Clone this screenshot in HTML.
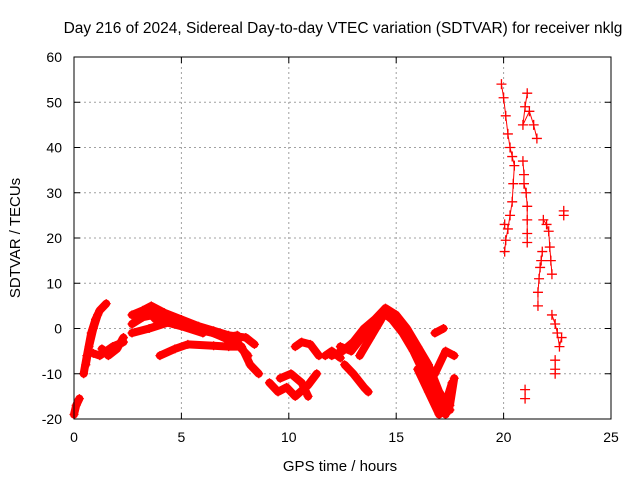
<!DOCTYPE html>
<html><head><meta charset="utf-8"><style>
body{margin:0;background:#fff;}
svg{display:block;font-family:"Liberation Sans",sans-serif;}
</style></head><body>
<svg id="chart" width="640" height="480">
<text x="343" y="33" font-size="15.5" text-anchor="middle">Day 216 of 2024, Sidereal Day-to-day VTEC variation (SDTVAR) for receiver nklg</text>
<g id="grid"></g><g id="marks"></g><g id="axes"></g>
<text x="340" y="471" font-size="15" text-anchor="middle">GPS time / hours</text>
<text transform="translate(20,238) rotate(-90)" font-size="15" text-anchor="middle">SDTVAR / TECUs</text>
</svg>
<script>
const xTicks=[0,5,10,15,20,25];
const yTicks=[-20,-10,0,10,20,30,40,50,60];
// dense tracks [hour, TECU]
const denseTracks=[
[[0,-19],[0.1,-17],[0.25,-15.5]],
[[0.45,-10],[0.6,-6],[0.8,-1],[1.0,2],[1.2,4],[1.5,5.5]],
[[0.55,-8],[0.7,-4],[0.9,0],[1.1,3]],
[[0.9,-5.5],[1.2,-6],[1.5,-5],[1.8,-4],[2.3,-3]],
[[1.3,-4.5],[1.6,-6],[2,-4.5],[2.3,-2]],
[[2.7,3],[3.2,4],[3.6,5],[4.2,3.5],[5,2],[5.8,0.5],[6.5,-0.5],[7.2,-1.5],[8,-2],[8.4,-3.5]],
[[2.7,-1],[3.5,0],[4.5,1.5],[5.5,0],[6.5,-1],[7.2,-2.5],[7.5,-3]],
[[2.7,1],[3.2,2.5],[3.7,3],[4.2,1.5],[5,0.5],[6,-1]],
[[3.4,4],[3.8,2],[4.4,2.5],[5.2,1],[6.2,-0.5],[7,-2],[7.6,-1.5]],
[[4,-6],[4.7,-4.5],[5.3,-3.5],[6.5,-3.8],[7.2,-4],[7.8,-4],[8.2,-8],[8.6,-10]],
[[7.2,-3],[7.5,-2],[7.8,-4.5],[8.1,-6]],
[[9.1,-12],[9.5,-14],[9.9,-13],[10.3,-15],[10.9,-12.5],[11.3,-10]],
[[9.6,-11],[10.1,-10],[10.6,-12],[10.9,-15]],
[[10.3,-4],[10.6,-3],[11,-3.5],[11.4,-6]],
[[11.7,-6],[12,-5],[12.4,-6.5]],
[[12,-6],[12.5,-5],[13,-3],[13.5,0],[14,2],[14.5,4.5],[15,3],[15.5,0],[16,-4],[16.5,-8],[17,-14],[17.5,-18]],
[[12.4,-4],[12.9,-5],[13.4,-2],[13.9,1],[14.4,3.5],[14.8,2],[15.3,-1],[15.8,-5],[16.3,-10],[16.8,-15],[17.3,-19]],
[[12.6,-8],[13,-10],[13.5,-13],[13.7,-14]],
[[13.3,-6],[13.8,-2],[14.3,2]],
[[16,-9],[16.5,-14],[17,-19],[17.5,-17],[17.7,-11]],
[[16.2,-7],[16.6,-11],[17,-16],[17.4,-15],[17.6,-12]],
[[16.8,-10],[17.3,-5],[17.7,-6]],
[[16.8,-1],[17.2,0]]
];
// sparse tracks
const sparseTracks=[
[[19.9,54],[20,51],[20.1,47],[20.2,43],[20.3,40],[20.4,38],[20.5,36],[20.45,32],[20.4,28],[20.3,25],[20.2,22],[20.1,19.5],[20.05,17]],
[[21.1,52],[21,49],[20.9,45],[21.2,48],[21.4,45],[21.55,42]],
[[20.9,37],[20.95,34],[20.95,32],[21.05,30],[21.1,27],[21.1,24],[21.1,21],[21.1,19]],
[[21.85,24],[22,23],[22.1,21.5],[22.15,18],[22.2,15],[22.25,12]],
[[21.8,17],[21.75,15],[21.7,13.5],[21.65,11],[21.6,8],[21.6,5]],
[[22.25,3],[22.4,1],[22.5,-1],[22.6,-4],[22.7,-2]],
[[22.4,-7],[22.4,-9],[22.4,-10]],
[[22.8,25],[22.8,26]],
[[21,-13.5],[21,-15.5]],
[[20.05,23]]
];
const X0=74,X1=611,Y0=419,Y1=57;
const xs=v=>X0+(v-0)/25*(X1-X0);
const ys=v=>Y0-(v+20)/80*(Y0-Y1);
const NS="http://www.w3.org/2000/svg";
function mk(t,a,p){const e=document.createElementNS(NS,t);for(const k in a)e.setAttribute(k,a[k]);p.appendChild(e);return e;}
const grid=document.getElementById('grid'),axes=document.getElementById('axes'),marks=document.getElementById('marks');
xTicks.forEach(t=>{
 if(t>0&&t<25){const l=mk('line',{x1:xs(t),x2:xs(t),y1:Y0,y2:Y1,stroke:'#a0a0a0','stroke-dasharray':'2,3'},grid);
 }
 mk('line',{x1:xs(t),x2:xs(t),y1:Y0,y2:Y0-6,stroke:'#000'},axes);
 mk('line',{x1:xs(t),x2:xs(t),y1:Y1,y2:Y1+6,stroke:'#000'},axes);
 const tx=mk('text',{x:xs(t),y:Y0+23,'font-size':14,'text-anchor':'middle'},axes);tx.textContent=t;
 
});
yTicks.forEach(t=>{
 if(t>-20&&t<60){const l=mk('line',{x1:X0,x2:X1,y1:ys(t),y2:ys(t),stroke:'#a0a0a0','stroke-dasharray':'2,3'},grid);
 }
 mk('line',{x1:X0,x2:X0+6,y1:ys(t),y2:ys(t),stroke:'#000'},axes);
 mk('line',{x1:X1,x2:X1-6,y1:ys(t),y2:ys(t),stroke:'#000'},axes);
 const tx=mk('text',{x:X0-12,y:ys(t)+5,'font-size':14,'text-anchor':'end'},axes);tx.textContent=t;
 
});
const fr=mk('rect',{x:X0,y:Y1,width:X1-X0,height:Y0-Y1,fill:'none',stroke:'#000'},axes);

function plus(x,y,s){mk('path',{d:`M${x-s},${y}h${2*s}M${x},${y-s}v${2*s}`,stroke:'#f00','stroke-width':1.3},marks);}
denseTracks.forEach(tr=>{
 const pl=mk('polyline',{points:tr.map(p=>xs(p[0])+','+ys(p[1])).join(' '),fill:'none',stroke:'#f00','stroke-width':8,'stroke-linejoin':'round','stroke-linecap':'round'},marks);
 
 tr.forEach(p=>plus(xs(p[0]),ys(p[1]),4.5));
});
sparseTracks.forEach(tr=>{
 const pl=mk('polyline',{points:tr.map(p=>xs(p[0])+','+ys(p[1])).join(' '),fill:'none',stroke:'#f00','stroke-width':1},marks);
 
 tr.forEach(p=>plus(xs(p[0]),ys(p[1]),5));
});
</script>
</body></html>
